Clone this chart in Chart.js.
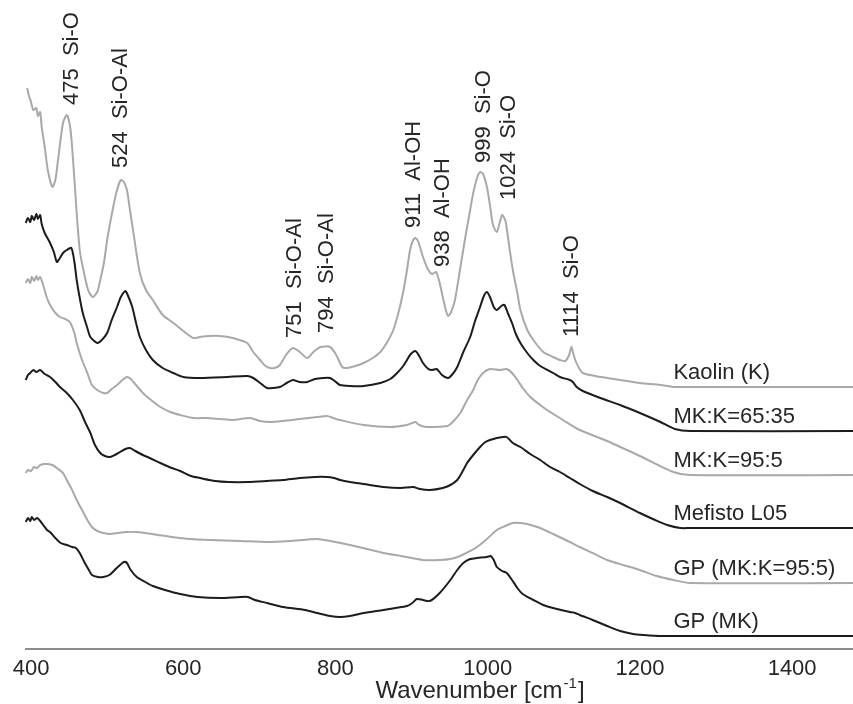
<!DOCTYPE html>
<html><head><meta charset="utf-8">
<script src="https://cdn.jsdelivr.net/npm/chart.js@4.4.1/dist/chart.umd.min.js"></script>
<style>html,body{margin:0;padding:0;background:#fff}</style>
</head><body>
<canvas id="c" width="853" height="704"></canvas>
<script>
// ---------- data ----------
const xTicks = [400, 600, 800, 1000, 1200, 1400];
const seriesNames = ['Kaolin (K)', 'MK:K=65:35', 'MK:K=95:5', 'Mefisto L05', 'GP (MK:K=95:5)', 'GP (MK)'];

const kaolinX = [395,397,400,403,407,409,412,414,418,422,428,432,435,442,447,451,454,460,464,468,475,481,487,491,496,500,508,513,518,522,526,530,534,543,551,560,573,587,600,613,622,635,648,665,684,692,701,708,714,720,727,735,744,753,763,771,780,793,801,809,815,826,837,849,859,868,876,883,889,894,898,902,905,909,915,922,927,932,936,941,945,948,952,957,964,970,977,981,986,990,994,999,1003,1007,1012,1016,1019,1023,1025,1029,1033,1039,1043,1052,1060,1073,1086,1095,1102,1107,1110,1112,1115,1120,1125,1141,1157,1174,1200,1227,1244,1266,1480];
const kaolinY = [561,554,547,539,541,533,537,522,502,479,462,469,486,526,534,524,502,436,399,382,359,352,357,369,387,409,442,459,469,467,459,439,419,376,359,349,334,326,318,311,312,313,313,311,306,297,289,283,281,281,284,294,301,297,291,297,302,302,294,282,281,283,286,291,297,307,319,337,357,379,399,409,411,407,392,379,375,377,369,352,339,333,337,349,381,409,439,456,471,477,475,462,444,424,417,427,434,429,421,399,379,356,339,319,309,297,292,289,288,294,302,297,289,281,276,273,271,269,266,264,262,262,262];

const mk6535X = [393,396,399,401,404,407,409,412,414,418,425,430,434,438,442,447,453,457,460,464,468,474,478,487,493,500,506,513,518,524,527,533,538,543,551,560,573,587,600,622,658,684,692,701,710,718,727,736,744,753,763,773,784,793,799,806,819,837,859,872,881,889,894,899,905,910,915,922,927,933,940,948,954,960,968,977,983,990,995,999,1003,1008,1012,1018,1022,1027,1032,1037,1043,1052,1060,1069,1086,1095,1108,1112,1117,1125,1148,1174,1200,1227,1246,1266,1480];
const mk6535Y = [426,431,427,433,429,435,430,434,425,416,406,397,387,391,396,399,401,387,369,351,336,321,312,306,309,316,329,342,352,358,354,342,326,312,299,289,281,276,272,271,272,273,271,266,261,261,262,266,269,267,267,270,271,271,268,264,263,263,266,270,276,283,289,295,298,293,286,280,279,280,274,271,275,282,297,312,327,342,353,357,352,342,339,343,344,335,326,315,306,296,289,283,276,272,269,267,262,258,251,244,236,227,220,218,218];

const mk955X = [393,396,399,401,404,407,409,412,416,421,425,432,438,445,451,457,460,467,474,480,487,495,500,506,513,520,526,531,538,547,556,570,583,596,613,631,648,665,688,701,714,731,753,776,789,797,806,837,872,894,901,905,910,920,947,954,964,973,981,987,994,1003,1016,1025,1032,1039,1046,1056,1069,1078,1099,1121,1157,1200,1244,1266,1480];
const mk955Y = [366,370,366,372,368,373,369,372,364,351,344,336,332,330,327,316,306,289,276,264,259,256,256,260,264,269,272,270,264,256,250,242,237,234,231,231,230,229,231,228,227,228,230,232,233,231,229,224,222,224,226,227,224,222,223,227,236,249,259,269,276,280,279,280,276,269,261,252,244,239,229,219,208,193,177,174,174];

const mefistoX = [393,396,399,403,407,412,418,425,432,438,447,455,464,471,478,484,491,497,504,510,517,524,530,537,547,556,570,585,596,610,622,642,660,685,710,731,753,773,789,798,806,819,837,863,886,902,911,924,941,951,960,968,973,981,990,997,1003,1012,1020,1025,1033,1043,1056,1069,1082,1095,1108,1121,1138,1157,1174,1200,1220,1236,1253,1266,1480];
const mefistoY = [269,274,276,279,277,279,275,272,267,262,256,249,239,227,216,204,196,193,192,194,197,200,201,198,194,191,186,181,178,173,171,168,167,167,168,169,171,172,172,171,169,167,165,162,161,162,160,159,161,164,169,179,186,194,202,207,209,211,212,212,206,202,195,189,182,177,171,165,158,152,146,136,129,124,121,121,121];

const gp955X = [393,396,400,404,408,412,417,422,428,434,442,447,454,460,467,474,480,487,495,504,514,525,537,550,567,585,609,635,675,710,740,776,793,819,863,886,915,937,951,964,977,986,999,1012,1023,1033,1043,1052,1069,1086,1108,1121,1138,1157,1178,1200,1222,1244,1266,1480];
const gp955Y = [176,179,178,182,181,184,185,185,184,181,176,169,159,149,139,129,122,118,116,115,116,117,117,116,114,112,110,109,108,107,108,110,108,104,96,93,89,89,90,93,98,102,110,119,123,126,126,125,121,115,107,102,96,89,84,79,73,69,66,66];

const gpmkX = [393,396,399,401,404,408,412,416,421,425,432,439,447,454,459,464,470,476,480,488,495,503,510,517,522,526,531,539,550,560,576,596,619,648,675,685,694,710,731,760,776,793,806,819,837,863,879,894,901,907,915,924,937,951,960,968,977,986,999,1004,1008,1012,1019,1025,1032,1039,1046,1060,1073,1091,1108,1115,1121,1138,1157,1174,1191,1204,1227,1480];
const gpmkY = [127,131,128,132,129,131,128,124,119,117,111,106,104,102,101,96,87,79,74,72,72,74,79,84,87,86,79,72,67,63,59,55,52,51,52,52,49,46,42,39,36,33,32,33,36,39,41,43,46,50,49,48,56,69,79,86,90,91,92,93,89,82,78,76,69,61,55,49,44,40,37,36,34,29,23,18,15,14,13,13];

const seriesX = [kaolinX, mk6535X, mk955X, mefistoX, gp955X, gpmkX];
const seriesY = [kaolinY, mk6535Y, mk955Y, mefistoY, gp955Y, gpmkY];

const peakNumbers = ['475', '524', '751', '794', '911', '938', '999', '1024', '1114'];
const peakBonds = ['Si-O', 'Si-O-Al', 'Si-O-Al', 'Si-O-Al', 'Al-OH', 'Al-OH', 'Si-O', 'Si-O', 'Si-O'];

// ---------- layout / style (not data) ----------
const peakLabelAnchor = [[451,544],[516,481],[744,311],[786,316],[901,421],[939,382],[993,486],[1025,449],[1108,312]];
const lineColors = ['#a9a9a9', '#1c1c1c', '#a9a9a9', '#1c1c1c', '#a9a9a9', '#1c1c1c'];
const FONT = '"Liberation Sans", Arial, Helvetica, sans-serif';
const TEXT_COLOR = '#262626';

const datasets = seriesNames.map((name, i) => ({
  label: name,
  data: seriesX[i].map((x, j) => ({x: x, y: seriesY[i][j]})),
  borderColor: lineColors[i],
  borderWidth: 2,
  pointRadius: 0,
  tension: 0.25,
  fill: false,
  clip: false
}));

const textPlugin = {
  id: 'texts',
  afterDraw(chart) {
    const ctx = chart.ctx;
    const xs = chart.scales.x, ys = chart.scales.y;
    ctx.save();
    ctx.fillStyle = TEXT_COLOR;
    // series names at right
    ctx.font = '22px ' + FONT;
    ctx.textAlign = 'left';
    ctx.textBaseline = 'alphabetic';
    seriesNames.forEach((n, i) => {
      const yv = seriesY[i][seriesY[i].length - 1];
      ctx.fillText(n, xs.getPixelForValue(1244), ys.getPixelForValue(yv) - 8);
    });
    // peak annotations, rotated
    peakNumbers.forEach((num, i) => {
      const px = xs.getPixelForValue(peakLabelAnchor[i][0]);
      const py = ys.getPixelForValue(peakLabelAnchor[i][1]);
      ctx.save();
      ctx.translate(px + 8, py);
      ctx.rotate(-Math.PI / 2);
      ctx.textAlign = 'left';
      ctx.textBaseline = 'alphabetic';
      ctx.font = '22px ' + FONT;
      ctx.fillText(num + '  ' + peakBonds[i], 0, 0);
      ctx.restore();
    });
    // axis title with superscript
    const t1 = 'Wavenumber [cm', sup = '-1', t2 = ']';
    ctx.font = '24px ' + FONT;
    const w1 = ctx.measureText(t1).width, w3 = ctx.measureText(t2).width;
    ctx.font = '15px ' + FONT;
    const w2 = ctx.measureText(sup).width;
    let x0 = 479 - (w1 + w2 + w3) / 2;
    const base = 698;
    ctx.textAlign = 'left';
    ctx.font = '24px ' + FONT;
    ctx.fillText(t1, x0, base);
    ctx.font = '15px ' + FONT;
    ctx.fillText(sup, x0 + w1 + 1, base - 10);
    ctx.font = '24px ' + FONT;
    ctx.fillText(t2, x0 + w1 + w2 + 2, base);
    ctx.restore();
  }
};

new Chart(document.getElementById('c'), {
  type: 'line',
  data: { datasets },
  options: {
    responsive: false,
    animation: false,
    devicePixelRatio: 1,
    layout: { padding: { left: 26, right: 0, top: 0, bottom: 0 } },
    plugins: { legend: { display: false }, tooltip: { enabled: false }, title: { display: false } },
    scales: {
      x: {
        type: 'linear',
        min: 393.4,
        max: 1480,
        afterBuildTicks: (s) => { s.ticks = xTicks.map(v => ({ value: v })); },
        afterFit: (s) => { s.height = 55; },
        grid: { display: false, drawTicks: false },
        border: { display: true, color: '#8c8c8c', width: 2 },
        ticks: { font: { family: FONT, size: 22 }, color: TEXT_COLOR, padding: 7, maxRotation: 0, autoSkip: false,
                 callback: (v) => String(v) }
      },
      y: {
        type: 'linear', display: false, min: 0, max: 649
      }
    }
  },
  plugins: [textPlugin]
});
</script>
</body></html>
